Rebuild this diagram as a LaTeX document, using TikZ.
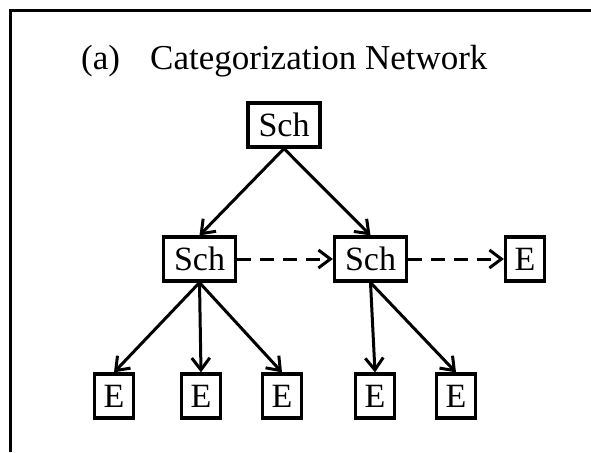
\documentclass[tikz,border=0pt]{standalone}
\usepackage{fontspec}
\setmainfont{Liberation Serif}
\usetikzlibrary{arrows.meta}
\begin{document}
\begin{tikzpicture}[x=1pt,y=-1pt,
  box/.style={draw,line width=3.2pt,inner sep=0pt,font=\fontsize{34}{34}\selectfont,
              minimum height=44pt},
  schbox/.style={box,minimum width=72pt},
  ebox/.style={box,minimum width=39pt},
  link/.style={line width=3pt,-{Straight Barb[length=12pt,width=18pt,line width=3pt]}},
  dlink/.style={link,dash pattern=on 14pt off 9pt}]
\useasboundingbox (0,0) rectangle (591,452);
% open frame: top and left edges only
\draw[line width=2.6pt] (591,10.5) -- (10.5,10.5) -- (10.5,452);
% title
\node[anchor=base west,inner sep=0pt,font=\fontsize{35}{35}\selectfont] (lbl) at (81,70) {(a)};
\node[anchor=base west,inner sep=0pt,font=\fontsize{35}{35}\selectfont] (ttl) at (150,70) {Categorization Network};
% schema nodes
\node[schbox] (top) at (284,125) {Sch};
\node[schbox] (ml) at (199.5,259) {Sch};
\node[schbox] (mr) at (370.5,259) {Sch};
\node[ebox] (er) at (525,259) {E};
% exemplar nodes
\node[ebox] (e1) at (114,396) {E};
\node[ebox] (e2) at (201,396) {E};
\node[ebox] (e3) at (282,396) {E};
\node[ebox] (e4) at (375,396) {E};
\node[ebox] (e5) at (456,396) {E};
% connectors
\draw[link] (top.south) -- (ml.north);
\draw[link] (top.south) -- (mr.north);
\draw[dlink] (ml.east) -- (mr.west);
\draw[dlink] (mr.east) -- (er.west);
\draw[link] (ml.south) -- (e1.north);
\draw[link] (ml.south) -- (e2.north);
\draw[link] (ml.south) -- (e3.north);
\draw[link] (mr.south) -- (e4.north);
\draw[link] (mr.south) -- (e5.north);
\end{tikzpicture}
\end{document}
